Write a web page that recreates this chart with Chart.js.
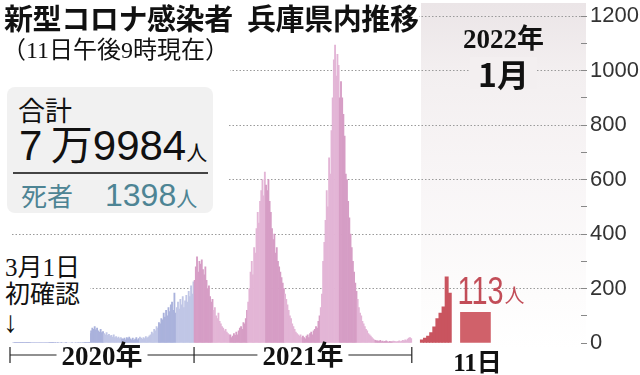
<!DOCTYPE html>
<html lang="ja">
<head>
<meta charset="UTF-8">
<title>新型コロナ感染者 兵庫県内推移</title>
<script src="https://cdn.jsdelivr.net/npm/chart.js"></script>
<style>
  body { margin: 0; background: #fff; }
  #wrap { position: relative; width: 640px; height: 375px; overflow: hidden;
          font-family: "Noto Sans CJK JP", sans-serif; color: #111; }
  #panel { position: absolute; left: 421px; top: 3px; width: 165px; height: 345px;
           background: linear-gradient(#ebe5e7, #f3eff0 20%, #f8f5f6 50%, #fdfcfc 85%, #fff); }
  #chart { position: absolute; left: 0; top: 0; }
  .mask { position: absolute; background: #fff; }
  .abs { position: absolute; white-space: nowrap; line-height: 1; }
  .serif { font-family: "Liberation Serif", "Noto Sans CJK JP", serif; }
  #title { left: 4px; top: 3px; font-size: 29px; font-weight: bold; letter-spacing: -0.4px; }
  #sub { left: 2px; top: 38px; font-size: 24px; }
  #box { left: 7px; top: 87px; width: 206px; height: 126px; background: #f1f1f1; border-radius: 8px; }
  #rule { position: absolute; left: 6px; top: 85px; width: 195px; height: 2px; background: #444; }
  #first { left: 5px; top: 254px; font-size: 25px; line-height: 27px; }
  #first .arrow { font-size: 30px; margin-left: -2px; }
  #p2022 { left: 421px; top: 26px; width: 165px; text-align: center; }
  #p2022 .y { font-size: 27px; font-weight: bold; }
  #p2022 .m { display: inline-block; margin-top: 4px; padding: 0 8px; font-size: 32px; font-weight: bold; background: #f3eff0; }
</style>
</head>
<body>
<div id="wrap">
  <div id="panel"></div>
  <canvas id="chart" width="640" height="375"></canvas>

  <div class="mask" style="left:0;top:0;width:419px;height:36px"></div>
  <div class="mask" style="left:0;top:36px;width:230px;height:40px"></div>
  <div class="mask" style="left:0;top:76px;width:228px;height:142px"></div>
  <div class="mask" style="left:0;top:250px;width:90px;height:92px"></div>

  <div id="title" class="abs">新型コロナ感染者&ensp;兵庫県内推移</div>
  <div id="sub" class="abs serif">（11日午後9時現在）</div>

  <div id="box" class="abs">
    <div class="abs" style="left:11px;top:9px;font-size:27px">合計</div>
    <div class="abs" style="left:12px;top:38px;font-size:42px;font-family:'Liberation Sans','Noto Sans CJK JP'">7&thinsp;万9984<span style="font-size:21px">人</span></div>
    <div id="rule"></div>
    <div class="abs" style="left:14px;top:92px;font-size:26px;color:#4d8494">死者<span style="margin-left:32px;font-size:32px;font-family:'Liberation Sans'">1398</span><span style="font-size:21px">人</span></div>
  </div>

  <div id="first" class="abs serif">3月1日<br>初確認<br><span class="arrow">↓</span></div>

  <div id="p2022" class="abs">
    <div class="y serif">2022年</div>
    <div class="m">1月</div>
  </div>
</div>

<script>
// 2日ごとの新規感染者数 (2020年3月1日～)
const cases2020 = [0,2,3,5,8,
  10,6,8,5,4,6,8,10,12,14,18,
  20,25,30,22,28,35,37,30,25,32,28,20,16,
  12,10,8,5,4,3,2,1,
  0,1,0,0,1,0,0,0,1,0,0,0,0,1,0,0,1,0,1,2,1,2,3,5,8,
  10,15,25,35,45,55,50,60,48,55,45,40,50,38,42,35,30,38,28,32,25,28,22,30,20,24,18,22,16,20,15,
  14,18,12,20,16,22,15,12,18,10,14,20,12,16,22,18,14,20,16,24,18,22,26,
  30,40,35,50,45,60,55,75,70,90,85,110,95,120,100,130,115,140,150,120,183,110,130,150,125,160,140,170,130,155,
  175,150,190,170,210,180,225];
// 2日ごと (2021年1月1日～)
const cases2021 = [230,280,316,260,300,290,305,270,250,280,230,200,210,170,150,160,
  120,130,100,90,110,80,70,60,55,45,50,40,35,30,
  30,20,25,35,28,40,30,45,55,60,50,75,70,90,120,150,
  200,260,300,250,350,330,420,480,440,520,560,600,540,628,580,
  560,600,520,480,420,380,400,330,350,300,280,260,240,220,200,180,
  160,140,120,100,90,70,60,50,40,35,30,25,30,20,25,
  20,15,25,30,20,35,40,30,45,50,60,55,80,100,130,180,
  300,370,450,560,500,680,620,780,900,1040,1094,980,1060,1020,900,960,
  900,840,760,620,600,520,460,400,350,300,260,220,190,160,130,
  110,100,80,70,60,50,45,35,30,25,20,15,12,10,8,
  8,6,10,5,7,4,6,8,5,3,6,4,5,7,6,
  5,4,6,8,5,7,10,8,12,9,14,18,20,16];
// 2022年1月1日～10日
const jan2022 = [12,18,25,38,59,90,110,133,243,183];
const day11 = 113;
const yearLabels = ['2020年', '2021年'];
const dayLabel = '11日';

const mainCases = cases2020.concat(cases2021);
const mainCount = mainCases.length;
const janStart = mainCount + 8;
const janStep = 2.6;
const day11X = janStart + 45;

// month shading
const binColors = mainCases.map(function(v, i) {
  var d = i < cases2020.length ? new Date(2020, 2, 1 + 2 * i) : new Date(2021, 0, 1 + 2 * (i - cases2020.length));
  var light = d.getMonth() % 2 === 1;
  if (d.getFullYear() === 2020) return light ? '#c0c6e6' : '#aab2dc';
  return light ? '#e3b5d6' : '#d69dc5';
});

const annotations = {
  id: 'annotations',
  afterDatasetsDraw(chart) {
    var ctx = chart.ctx, xs = chart.scales.x;
    var y = 355;
    var edges = [xs.getPixelForValue(-0.5) - 2, xs.getPixelForValue(cases2020.length - 0.5), xs.getPixelForValue(mainCount - 0.5)];
    ctx.save();
    ctx.strokeStyle = '#222';
    ctx.fillStyle = '#111';
    ctx.lineWidth = 1.2;
    ctx.font = 'bold 27px "Liberation Serif", "Noto Sans CJK JP"';
    ctx.textAlign = 'center';
    ctx.textBaseline = 'alphabetic';
    yearLabels.forEach(function(lab, i) {
      var a = edges[i], b = edges[i + 1], c = (a + b) / 2;
      var w = ctx.measureText(lab).width / 2 + 5;
      ctx.beginPath();
      ctx.moveTo(a, y); ctx.lineTo(c - w, y);
      ctx.moveTo(c + w, y); ctx.lineTo(b, y);
      ctx.stroke();
      ctx.fillText(lab, c, y + 10);
    });
    edges.forEach(function(e) {
      ctx.beginPath();
      ctx.moveTo(e, y - 8); ctx.lineTo(e, y + 8);
      ctx.stroke();
    });

    // 11日 box labels
    var bar = chart.getDatasetMeta(2).data[0];
    ctx.font = 'bold 25px "Liberation Serif", "Noto Sans CJK JP"';
    ctx.fillText(dayLabel, bar.x + 2, 371);
    ctx.fillStyle = '#c24d58';
    ctx.textAlign = 'left';
    ctx.save();
    ctx.translate(bar.x - bar.width / 2 - 3, bar.y - 8);
    ctx.scale(0.76, 1);
    ctx.font = '38px "Liberation Sans"';
    ctx.fillText(String(day11), 0, 0);
    var tw = ctx.measureText(String(day11)).width * 0.76;
    ctx.restore();
    ctx.font = '20px "Noto Sans CJK JP"';
    ctx.fillText('人', bar.x - bar.width / 2 - 3 + tw + 1, bar.y - 9);
    ctx.restore();
  }
};

new Chart(document.getElementById('chart'), {
  type: 'bar',
  data: {
    datasets: [{
      data: mainCases.map(function(v, i) { return {x: i, y: v}; }),
      backgroundColor: binColors,
      grouped: false,
      barPercentage: 1,
      categoryPercentage: 1
    }, {
      data: jan2022.map(function(v, i) { return {x: janStart + i * janStep, y: v}; }),
      backgroundColor: '#c9545f',
      grouped: false,
      barThickness: 3.3
    }, {
      data: [{x: day11X, y: day11}],
      backgroundColor: '#d0616a',
      grouped: false,
      barThickness: 30
    }]
  },
  options: {
    responsive: false,
    animation: false,
    devicePixelRatio: 1,
    layout: { padding: { left: 12, top: 16, bottom: 32, right: 0 } },
    plugins: { legend: { display: false }, tooltip: { enabled: false } },
    scales: {
      x: { type: 'linear', display: false, offset: false, min: -0.5, max: 477.7 },
      y: {
        position: 'right',
        min: 0, max: 1200,
        border: { display: false, dash: [1.5, 2] },
        afterFit: function(scale) { scale.width = 59; },
        grid: {
          color: function(c) { return c.tick && c.tick.value > 0 && c.tick.value % 200 === 0 ? '#9a9a9a' : 'rgba(0,0,0,0)'; },
          lineWidth: 1,
          tickLength: 6,
          tickColor: '#888',
          tickBorderDash: []
        },
        ticks: {
          stepSize: 100,
          autoSkip: false,
          padding: 3,
          color: '#333',
          font: { family: 'Liberation Sans', size: 22 },
          callback: function(v) { return v % 200 === 0 ? v : ''; }
        }
      }
    }
  },
  plugins: [annotations]
});
</script>
</body>
</html>
